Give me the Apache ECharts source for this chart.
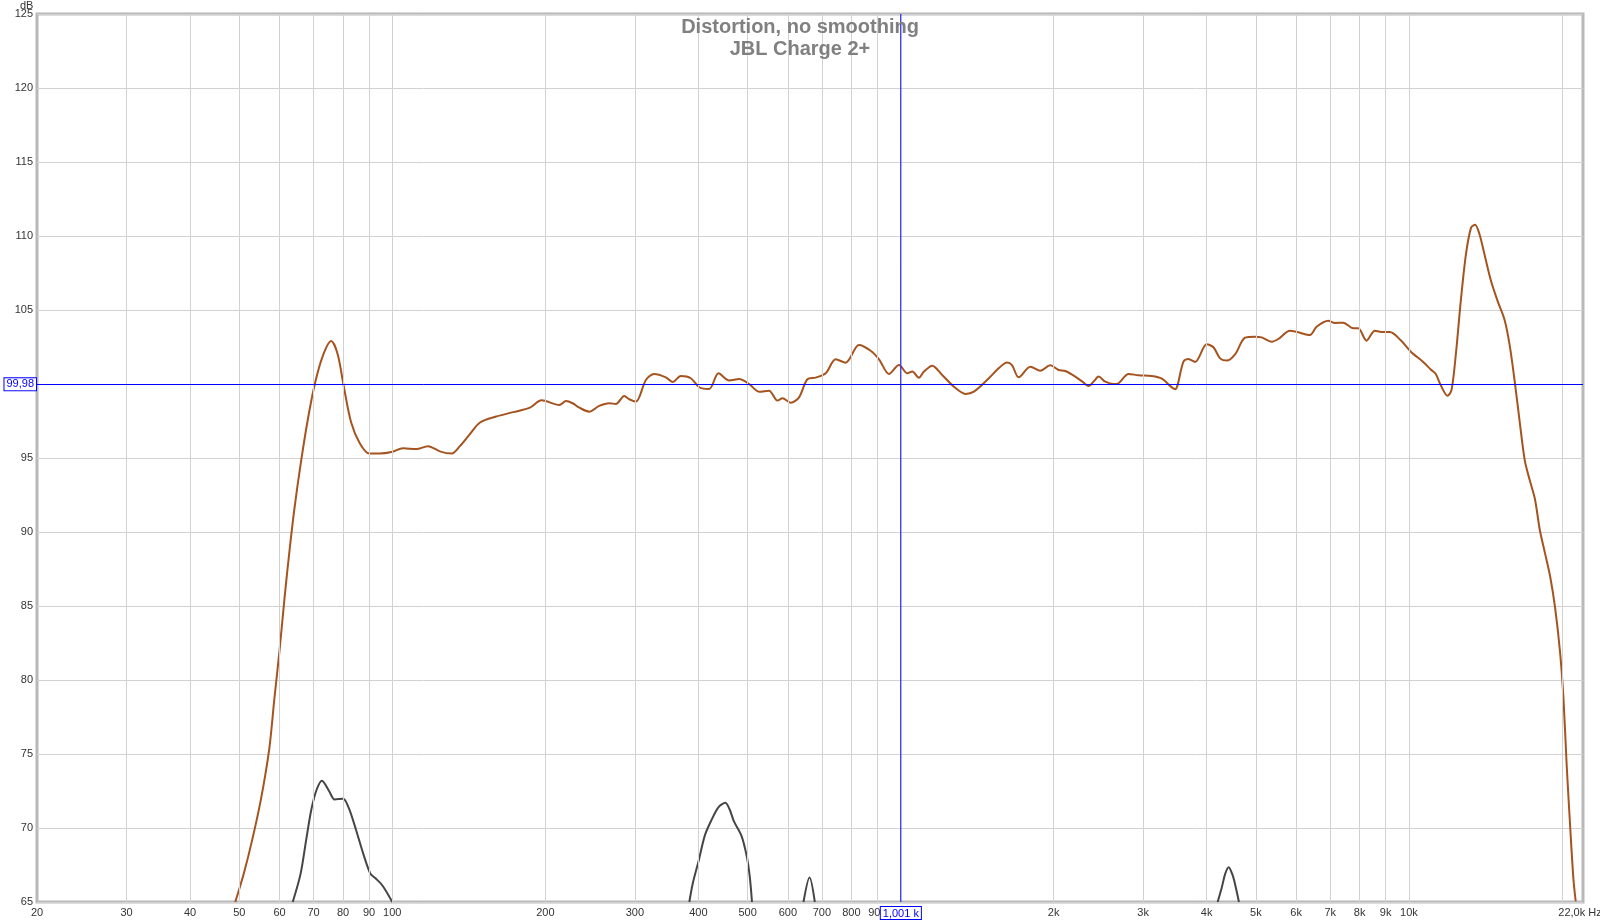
<!DOCTYPE html>
<html><head><meta charset="utf-8">
<script src="https://cdn.jsdelivr.net/npm/echarts@6/dist/echarts.min.js"></script>
<style>html,body{margin:0;padding:0;background:#fff}#c{width:1600px;height:923px}</style>
</head><body><div id="c"></div>
<script>
// Main response (brown) — frequency (Hz) and level (dB)
const splFreq = [49.1,51.1,53.1,55.2,57.3,58.6,60.0,61.4,62.8,64.2,66.1,68.2,70.4,73.0,75.8,78.1,80.3,83.0,86.3,90.1,94.4,99.6,105,111.5,117.6,124,130.8,135.8,142,148.8,160,173,186.5,196.6,
213.1,219.6,226.3,233.3,244.1,255.3,267.2,275.3,286.0,292.6,301.5,315.4,327.5,345.2,355.9,369.5,386.6,401.5,420.0,438.3,460.1,481.2,503.5,526.8,551.1,572.2,585.4,608.0,631.2,655.5,680.6,712.2,745.2,779.7,828.1,873.1,906.7,948.7,992.6,1030.8,1054.2,1086.6,1111.3,1153.9,1207.2,1272.8,1341.9,1393.5,1491.3,
1559,1619,1656,1707,1800,1883,1970,2045,2108,2206,2291,2343,2397,2452,2527,2624,2684,2808,2937,3120,3265,3416,3468,3601,3683,3796,4002,4125,4251,4381,4549,4759,4978,5131,5370,5534,5834,6058,6386,6582,6938,7151,7426,7771,7948,8252,8570,8832,9172,
9627,10076,10707,11037,11292,11553,11909,12128,12371,12656,12948,13246,13490,13757,14075,14509,14957,15419,15776,16141,16514,16896,17287,17687,18096,18515,18943,19381,19830,20133,20434,20746,21063,21285];
const splDb = [65.0,67.0,69.3,72.0,75.4,78.7,82.0,85.6,88.8,91.6,94.7,97.6,100.0,101.9,102.9,102.0,99.8,97.4,96.0,95.3,95.3,95.4,95.66,95.6,95.8,95.45,95.3,95.8,96.6,97.4,97.8,98.1,98.4,98.9,
98.58,98.85,98.70,98.40,98.13,98.52,98.70,98.65,99.19,98.97,98.81,100.27,100.68,100.45,100.14,100.54,100.39,99.78,99.66,100.72,100.23,100.34,100.0,99.48,99.55,98.88,99.03,98.74,99.10,100.32,100.43,100.72,101.67,101.44,102.64,102.25,101.67,100.68,101.29,100.72,100.84,100.43,100.84,101.24,100.61,99.82,99.33,99.48,100.39,
101.06,101.46,101.28,100.45,101.17,100.90,101.26,100.95,100.88,100.50,100.09,99.86,100.16,100.50,100.16,100.0,100.05,100.68,100.59,100.54,100.36,99.77,99.64,101.51,101.69,101.49,102.68,102.48,101.73,101.58,102.0,103.13,103.2,103.15,102.86,103.04,103.6,103.49,103.31,103.87,104.28,104.12,104.14,103.76,103.76,102.93,103.6,103.51,103.51,
102.97,102.20,101.44,100.98,100.67,99.91,99.20,99.60,102.05,105.72,108.78,110.55,110.76,110.15,108.78,106.94,105.57,104.34,102.66,100.21,97.46,94.86,93.49,92.26,90.12,88.59,87.06,84.92,81.86,78.81,74.22,70.24,66.57,65.05];

// Distortion (dark grey) — null marks a gap between bumps
const thdFreq = [63.7,66.0,67.7,69.3,71.0,72.7,75.1,77.0,80.0,82.1,84.8,87.6,90.5,92.7,95.7,100, 200,
384,390,400,412,424,438,452,461,470,486,498,505,510, 560,
644,662,678, 2000,
4204,4285,4350,4420,4490,4535,4630];
const thdDb = [65,66.9,69.2,71.25,72.6,73.2,72.5,71.93,71.98,71.36,69.9,68.3,66.93,66.6,66.1,65, null,
65,66.25,67.7,69.5,70.5,71.4,71.7,71.25,70.45,69.5,68.1,66.7,65, null,
65,66.66,65, null,
65,66.0,66.9,67.35,66.9,66.4,65];

// Axis ticks
const xTickValues = [20,30,40,50,60,70,80,90,100,200,300,400,500,600,700,800,900,1000,2000,3000,4000,5000,6000,7000,8000,9000,10000,20000,22000];
const xTickLabels = ['20','30','40','50','60','70','80','90','100','200','300','400','500','600','700','800','900','1k','2k','3k','4k','5k','6k','7k','8k','9k','10k','','22,0k Hz'];
const yMin = 65, yMax = 125, yStep = 5;
const cursorFreq = 1001, cursorDb = 99.98;
const cursorFreqLabel = '1,001 k', cursorDbLabel = '99,98';
const titleLines = ['Distortion, no smoothing', 'JBL Charge 2+'];

const FONT = '"Liberation Sans", Arial, sans-serif';
const BLUE = '#0000ff';
const chart = echarts.init(document.getElementById('c'), null, {renderer: 'canvas'});

const pairs = (xs, ys) => xs.map((x, i) => [x, ys[i] === null ? '-' : ys[i]]);

const gridLines = xTickValues.map((v, i) => ({
  xAxis: v,
  lineStyle: {color: (v === 20 || v === 22000) ? 'rgba(0,0,0,0)' : '#d2d2d2', width: 1, type: 'solid'},
  label: {show: true, position: 'start', formatter: xTickLabels[i], color: '#333', fontSize: 11, fontFamily: FONT, distance: 5,
          padding: v === 22000 ? [0, 6, 0, 0] : 0}
}));

const cursorLabel = {show: true, position: 'start', color: BLUE, fontSize: 11, fontFamily: FONT,
  backgroundColor: '#ffffff', borderColor: BLUE, borderWidth: 1, padding: [1, 2, 0, 2]};

chart.setOption({
  animation: false,
  backgroundColor: '#ffffff',
  title: [
    {text: titleLines[0], left: 'center', top: 12, textStyle: {fontSize: 20, fontWeight: 'bold', color: '#808080', fontFamily: FONT}},
    {text: titleLines[1], left: 'center', top: 34, textStyle: {fontSize: 20, fontWeight: 'bold', color: '#808080', fontFamily: FONT}}
  ],
  graphic: [
    {type: 'text', left: 20, top: 0, z: 10, silent: true,
     style: {text: 'dB', fill: '#333', font: '11px "Liberation Sans", Arial, sans-serif'}}
  ],
  grid: {left: 37, right: 17, top: 14, bottom: 21, show: true, borderColor: '#b8b8b8', borderWidth: 3, backgroundColor: 'transparent', containLabel: false, outerBoundsMode: 'none'},
  xAxis: {
    type: 'log', logBase: 10, min: 20, max: 22000,
    axisLine: {show: false}, axisTick: {show: false}, axisLabel: {show: false},
    splitLine: {show: false}, minorSplitLine: {show: false}
  },
  yAxis: {
    type: 'value', min: yMin, max: yMax, interval: yStep,
    axisLine: {show: false}, axisTick: {show: false},
    axisLabel: {color: '#333', fontSize: 11, fontFamily: FONT, margin: 4},
    splitLine: {show: true, lineStyle: {color: '#d2d2d2', width: 1}}
  },
  series: [
    {
      name: 'grid', type: 'line', data: [], z: 1, silent: true,
      markLine: {silent: true, symbol: ['none', 'none'], animation: false, data: gridLines}
    },
    {
      name: 'Distortion', type: 'line', data: pairs(thdFreq, thdDb), z: 3,
      showSymbol: false, smooth: 0.3, connectNulls: false, clip: true,
      lineStyle: {color: '#454545', width: 2}
    },
    {
      name: 'Response', type: 'line', data: pairs(splFreq, splDb), z: 4,
      showSymbol: false, smooth: 0.3, clip: true,
      lineStyle: {color: '#a5531f', width: 2}
    },
    {
      name: 'cursorV', type: 'line', data: [[cursorFreq, yMin], [cursorFreq, yMax]], z: 5, silent: true,
      showSymbol: false, symbol: 'none', clip: true,
      itemStyle: {color: BLUE}, lineStyle: {color: BLUE, width: 1, type: 'solid'}
    },
    {
      name: 'cursor', type: 'line', data: [], z: 6, silent: true,
      markLine: {
        silent: true, symbol: ['none', 'none'], animation: false,
        lineStyle: {color: BLUE, width: 1, type: 'solid'},
        label: cursorLabel,
        data: [
          {xAxis: cursorFreq, lineStyle: {color: 'rgba(0,0,0,0)', width: 0}, label: Object.assign({}, cursorLabel, {formatter: cursorFreqLabel, distance: 5})},
          {yAxis: cursorDb, lineStyle: {color: BLUE, width: 1, type: 'solid'}, label: Object.assign({}, cursorLabel, {formatter: cursorDbLabel, distance: 1})}
        ]
      }
    }
  ]
});
</script></body></html>
